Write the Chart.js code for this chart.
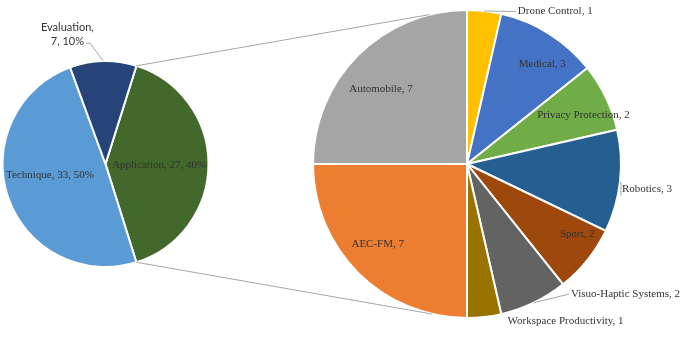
<!DOCTYPE html>
<html lang="en">
<head>
<meta charset="UTF-8">
<title>Pie of pie</title>
<script src="https://cdn.jsdelivr.net/npm/chart.js"></script>
<style>
    body { margin: 0; background: #fff; }
    #wrap { position: relative; width: 685px; height: 350px; }
    #wrap canvas { position: absolute; left: 0; top: 0; }
</style>
</head>
<body>
<div id="wrap">
    <canvas id="main-pie" width="685" height="350"></canvas>
    <canvas id="sub-pie" width="685" height="350"></canvas>
</div>
<script>
// primary pie, clockwise from the split
const mainLabels = ['Application', 'Technique', 'Evaluation'];
const mainValues = [27, 33, 7];
const mainPercents = ['40%', '50%', '10%'];
const mainColors = ['#43682B', '#5B9BD5', '#264478'];

// secondary pie (breakdown of Application), clockwise from top
const subLabels = ['Drone Control', 'Medical', 'Privacy Protection', 'Robotics', 'Sport',
    'Visuo-Haptic Systems', 'Workspace Productivity', 'AEC-FM', 'Automobile'];
const subValues = [1, 3, 2, 3, 2, 2, 1, 7, 7];
const subColors = ['#FFC000', '#4472C4', '#70AD47', '#255E91', '#9E480E',
    '#636363', '#997300', '#ED7D31', '#A5A5A5'];

// label placement: "in" labels sit on the slice's mid angle (+da degrees) at rf * radius,
// outside ones at (fx, fy) from the centre in units of radius
const mainLabelPos = [
    { fx: 0.52, fy: 0.01, align: 'center' },
    { fx: -0.54, fy: 0.11, align: 'center' },
    { fx: -0.37, fy: -1.26, align: 'center', sans: true }
];
const subLabelPos = [
    { fx: 0.33, fy: -0.99, align: 'left', leader: true },
    { rf: 0.81, da: 5 },
    { rf: 0.82, da: 3 },
    { fx: 1.006, fy: 0.16, align: 'left', tick: true },
    { rf: 0.85, da: -6 },
    { fx: 0.675, fy: 0.845, align: 'left', leader: true },
    { fx: 0.64, fy: 1.02, align: 'center' },
    { rf: 0.78, da: 3 },
    { rf: 0.74, da: -4 }
];

const serif = '11px "Liberation Serif", "Times New Roman", serif';
const sans = '11px Lato, "Liberation Sans", sans-serif';
const textColor = '#333333';
const lineColor = '#A6A6A6';

function midPoint(arc, f, da) {
    let a = (arc.startAngle + arc.endAngle) / 2 + (da || 0) * Math.PI / 180;
    return { x: arc.x + Math.cos(a) * arc.outerRadius * f, y: arc.y + Math.sin(a) * arc.outerRadius * f };
}

const mainLabelPlugin = {
    id: 'mainLabels',
    afterDatasetsDraw(chart) {
        let ctx = chart.ctx;
        let arcs = chart.getDatasetMeta(0).data;
        let cx = arcs[0].x, cy = arcs[0].y, r = arcs[0].outerRadius;
        ctx.save();
        ctx.fillStyle = textColor;
        ctx.textBaseline = 'middle';
        mainLabels.forEach((name, i) => {
            let p = mainLabelPos[i];
            let x = cx + p.fx * r, y = cy + p.fy * r;
            ctx.textAlign = p.align;
            if (p.sans) {
                ctx.font = sans;
                ctx.fillText(name + ',', x, y - 7);
                let second = mainValues[i] + ', ' + mainPercents[i];
                ctx.fillText(second, x, y + 7);
                let right = x + ctx.measureText(second).width / 2;
                let edge = midPoint(arcs[i], 1);
                ctx.strokeStyle = lineColor;
                ctx.lineWidth = 1;
                ctx.beginPath();
                ctx.moveTo(right + 2, y + 9);
                ctx.lineTo(right + 6, y + 9);
                ctx.lineTo(edge.x, edge.y);
                ctx.stroke();
            } else {
                ctx.font = serif;
                ctx.fillText(name + ', ' + mainValues[i] + ', ' + mainPercents[i], x, y);
            }
        });
        ctx.restore();
    }
};

const subLabelPlugin = {
    id: 'subLabels',
    afterDatasetsDraw(chart) {
        let ctx = chart.ctx;
        let arcs = chart.getDatasetMeta(0).data;
        let cx = arcs[0].x, cy = arcs[0].y, r = arcs[0].outerRadius;

        // connector lines from the primary pie's Application slice
        let app = mainChart.getDatasetMeta(0).data[0];
        let from1 = { x: app.x + Math.cos(app.startAngle) * app.outerRadius, y: app.y + Math.sin(app.startAngle) * app.outerRadius };
        let from2 = { x: app.x + Math.cos(app.endAngle) * app.outerRadius, y: app.y + Math.sin(app.endAngle) * app.outerRadius };
        let a1 = (-14 - 90) * Math.PI / 180, a2 = (193 - 90) * Math.PI / 180;
        ctx.save();
        ctx.strokeStyle = lineColor;
        ctx.lineWidth = 1;
        ctx.beginPath();
        ctx.moveTo(from1.x, from1.y);
        ctx.lineTo(cx + Math.cos(a1) * r, cy + Math.sin(a1) * r);
        ctx.moveTo(from2.x, from2.y);
        ctx.lineTo(cx + Math.cos(a2) * r, cy + Math.sin(a2) * r);
        ctx.stroke();

        ctx.font = serif;
        ctx.fillStyle = textColor;
        ctx.textBaseline = 'middle';
        subLabels.forEach((name, i) => {
            let p = subLabelPos[i];
            let text = name + ', ' + subValues[i];
            if (p.rf) {
                let m = midPoint(arcs[i], p.rf, p.da);
                ctx.textAlign = 'center';
                ctx.fillText(text, m.x, m.y);
                return;
            }
            let x = cx + p.fx * r, y = cy + p.fy * r;
            ctx.textAlign = p.align;
            ctx.fillText(text, x, y);
            if (p.leader) {
                let edge = midPoint(arcs[i], 1);
                ctx.beginPath();
                ctx.moveTo(edge.x, edge.y);
                ctx.lineTo(x - 2, y);
                ctx.stroke();
            }
            if (p.tick) {
                ctx.beginPath();
                ctx.moveTo(x - 1, y - 7);
                ctx.lineTo(x - 1, y + 7);
                ctx.stroke();
            }
        });
        ctx.restore();
    }
};

const baseOptions = {
    responsive: false,
    animation: false,
    events: [],
    plugins: { legend: { display: false }, tooltip: { enabled: false } }
};

const mainChart = new Chart(document.getElementById('main-pie'), {
    type: 'pie',
    data: {
        labels: mainLabels,
        datasets: [{ data: mainValues, backgroundColor: mainColors, borderColor: '#fff', borderWidth: 2 }]
    },
    options: Object.assign({}, baseOptions, {
        rotation: 17.5,
        layout: { padding: { left: 1, right: 475, top: 60, bottom: 82 } }
    }),
    plugins: [mainLabelPlugin]
});

const subChart = new Chart(document.getElementById('sub-pie'), {
    type: 'pie',
    data: {
        labels: subLabels,
        datasets: [{ data: subValues, backgroundColor: subColors, borderColor: '#fff', borderWidth: 2 }]
    },
    options: Object.assign({}, baseOptions, {
        rotation: 0,
        layout: { padding: { left: 312, right: 63, top: 9, bottom: 31 } }
    }),
    plugins: [subLabelPlugin]
});
</script>
</body>
</html>
